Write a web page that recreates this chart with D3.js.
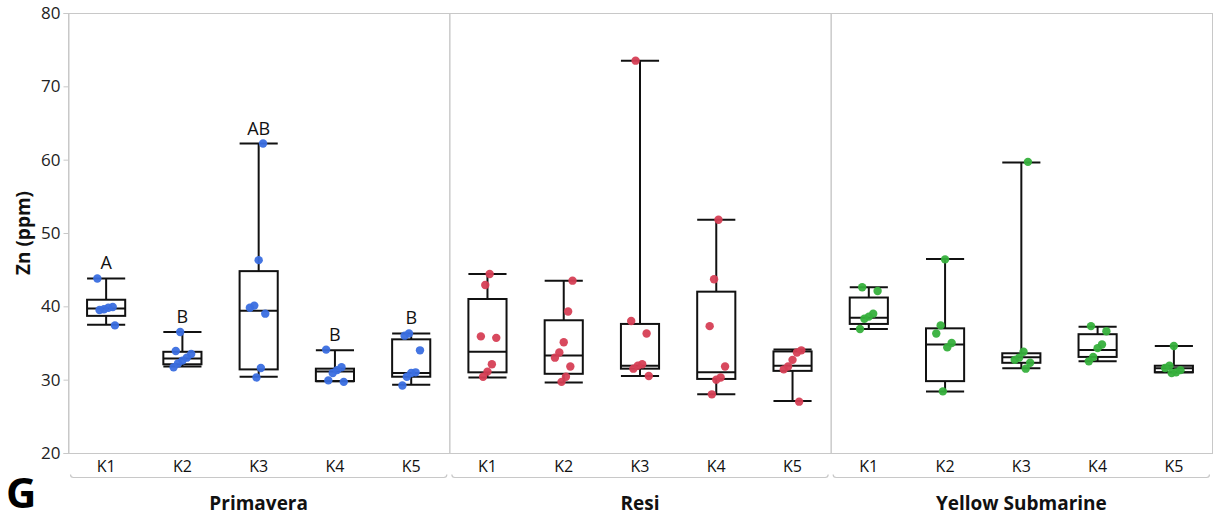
<!DOCTYPE html>
<html>
<head>
<meta charset="utf-8">
<script src="https://cdn.jsdelivr.net/npm/d3@7"></script>
<style>
  html, body { margin: 0; padding: 0; background: #fff; }
  svg { display: block; font-family: "Open Sans", "Noto Sans", sans-serif; }
</style>
</head>
<body>
<svg id="chart" width="1216" height="521"></svg>
<script>
// Zn concentration by treatment (K1–K5) for three cultivars
const cultivars = ["Primavera", "Resi", "Yellow Submarine"];
const treatments = ["K1", "K2", "K3", "K4", "K5"];
const yTicks = [20, 30, 40, 50, 60, 70, 80];
const dotColors = ["#3a6ee0", "#d63f55", "#36b03c"];

// Individual observations (ppm)
const primaveraPoints = [
  [43.8, 39.9, 39.8, 39.6, 39.5, 37.4],
  [36.5, 33.9, 33.5, 33.0, 32.6, 32.2, 31.7],
  [62.2, 46.3, 40.1, 39.8, 39.0, 31.6, 30.3],
  [34.1, 31.7, 31.3, 30.9, 29.9, 29.7],
  [36.3, 36.0, 34.0, 31.0, 30.9, 30.4, 29.2]
];
const resiPoints = [
  [44.4, 42.9, 35.9, 35.7, 32.1, 31.1, 30.4],
  [43.5, 39.3, 35.1, 33.7, 33.0, 31.8, 30.4, 29.7],
  [73.5, 38.0, 36.3, 32.1, 31.9, 31.5, 30.5],
  [51.8, 43.7, 37.3, 31.8, 30.3, 30.0, 28.0],
  [34.0, 33.7, 32.7, 31.8, 31.4, 27.0]
];
const yellowPoints = [
  [42.6, 42.1, 39.0, 38.6, 38.3, 36.9],
  [46.4, 37.4, 36.3, 35.0, 34.4, 28.4],
  [59.7, 33.8, 33.0, 32.7, 32.3, 31.5],
  [37.3, 36.6, 34.8, 34.3, 33.1, 32.5],
  [34.6, 31.9, 31.6, 31.3, 31.0, 30.9]
];

// Box summaries: [lower whisker, Q1, median, Q3, upper whisker]
const primaveraBoxes = [
  [37.5, 38.7, 39.7, 40.9, 43.8],
  [31.8, 32.1, 32.9, 33.8, 36.5],
  [30.4, 31.4, 39.4, 44.8, 62.2],
  [29.8, 29.8, 31.1, 31.5, 34.0],
  [29.3, 30.4, 30.9, 35.5, 36.3]
];
const resiBoxes = [
  [30.3, 31.0, 33.8, 41.0, 44.4],
  [29.6, 30.8, 33.3, 38.1, 43.5],
  [30.5, 31.5, 31.9, 37.6, 73.5],
  [28.0, 30.1, 31.0, 42.0, 51.8],
  [27.1, 31.2, 31.9, 33.85, 34.1]
];
const yellowBoxes = [
  [36.9, 37.6, 38.45, 41.2, 42.6],
  [28.4, 29.8, 34.8, 37.0, 46.45],
  [31.55, 32.3, 33.05, 33.6, 59.6],
  [32.5, 33.1, 34.05, 36.2, 37.2],
  [31.0, 31.0, 31.55, 31.9, 34.6]
];

// Significance letters (Primavera only)
const primaveraLetters = ["A", "B", "AB", "B", "B"];

const pointsByCultivar = [primaveraPoints, resiPoints, yellowPoints];
const boxesByCultivar = [primaveraBoxes, resiBoxes, yellowBoxes];
const lettersByCultivar = [primaveraLetters, [], []];

const svg = d3.select("#chart");
const plot = { left: 68, right: 1212, top: 13, bottom: 453 };

const y = d3.scaleLinear().domain([20, 80]).range([plot.bottom, plot.top]);
const outer = d3.scaleBand().domain(cultivars).range([plot.left, plot.right]).padding(0);
const inner = d3.scaleBand().domain(treatments).range([0, outer.bandwidth()]).padding(0);

const gridColor = "#c8c8c8";

// Panel frames
cultivars.forEach(c => {
  svg.append("rect")
    .attr("x", outer(c) + 0.5).attr("y", plot.top + 0.5)
    .attr("width", outer.bandwidth()).attr("height", plot.bottom - plot.top)
    .attr("fill", "none").attr("stroke", gridColor).attr("stroke-width", 1);
});

// Y axis
const yAxis = svg.append("g")
  .attr("transform", `translate(${plot.left + 0.5},0)`)
  .call(d3.axisLeft(y).tickValues(yTicks).tickSize(5).tickPadding(3));
yAxis.select(".domain").attr("stroke", gridColor);
yAxis.selectAll(".tick line").attr("stroke", gridColor);
yAxis.selectAll(".tick text")
  .attr("font-size", 17).attr("fill", "#222")
  .attr("font-family", "'Open Sans', 'Noto Sans', sans-serif");

svg.append("text")
  .attr("transform", `translate(30,${(plot.top + plot.bottom) / 2}) rotate(-90)`)
  .attr("text-anchor", "middle")
  .attr("font-size", 19).attr("font-weight", "bold").attr("fill", "#111")
  .text("Zn (ppm)");

const boxW = inner.bandwidth() * 0.5;

cultivars.forEach((c, ci) => {
  const g = svg.append("g").attr("transform", `translate(${outer(c)},0)`);
  const boxes = boxesByCultivar[ci];
  const pts = pointsByCultivar[ci];
  const letters = lettersByCultivar[ci];

  treatments.forEach((t, ti) => {
    const cx = inner(t) + inner.bandwidth() / 2;
    const [lo, q1, med, q3, hi] = boxes[ti];
    const bg = g.append("g").attr("stroke", "#111").attr("stroke-width", 2).attr("fill", "none");

    // whiskers
    bg.append("line").attr("x1", cx).attr("x2", cx).attr("y1", y(hi)).attr("y2", y(q3));
    bg.append("line").attr("x1", cx).attr("x2", cx).attr("y1", y(q1)).attr("y2", y(lo));
    bg.append("line").attr("x1", cx - boxW / 2).attr("x2", cx + boxW / 2).attr("y1", y(hi)).attr("y2", y(hi));
    bg.append("line").attr("x1", cx - boxW / 2).attr("x2", cx + boxW / 2).attr("y1", y(lo)).attr("y2", y(lo));
    // box and median
    bg.append("rect")
      .attr("x", cx - boxW / 2).attr("y", y(q3))
      .attr("width", boxW).attr("height", y(q1) - y(q3));
    bg.append("line").attr("x1", cx - boxW / 2).attr("x2", cx + boxW / 2).attr("y1", y(med)).attr("y2", y(med));

    // jittered observations
    pts[ti].forEach((v, i) => {
      const jitter = (((i * 7 + ti * 3 + ci * 5) % 9) - 4) * 2.2;
      g.append("circle")
        .attr("cx", cx + jitter).attr("cy", y(v)).attr("r", 4.2)
        .attr("fill", dotColors[ci]).attr("fill-opacity", 0.95);
    });

    if (letters[ti]) {
      g.append("text")
        .attr("x", cx).attr("y", y(hi) - 9)
        .attr("text-anchor", "middle")
        .attr("font-size", 18).attr("fill", "#111")
        .text(letters[ti]);
    }

    // treatment label
    g.append("text")
      .attr("x", cx).attr("y", 472)
      .attr("text-anchor", "middle")
      .attr("font-size", 16).attr("fill", "#111")
      .text(t);
  });

  // bracket under each cultivar's labels
  const x0 = 2.5, x1 = outer.bandwidth() - 2.5, by = 477.5;
  g.append("path")
    .attr("d", `M${x0},${by - 3} Q${x0},${by} ${x0 + 3},${by} L${x1 - 3},${by} Q${x1},${by} ${x1},${by - 3}`)
    .attr("fill", "none").attr("stroke", gridColor).attr("stroke-width", 1.2);

  g.append("text")
    .attr("x", outer.bandwidth() / 2).attr("y", 510)
    .attr("text-anchor", "middle")
    .attr("font-size", 19).attr("font-weight", "bold").attr("fill", "#111")
    .text(c);
});

// Panel tag
svg.append("text")
  .attr("x", 6).attr("y", 508)
  .attr("font-size", 42).attr("font-weight", "bold").attr("fill", "#000")
  .attr("font-family", "'Open Sans', 'Noto Sans', sans-serif")
  .text("G");
</script>
</body>
</html>
